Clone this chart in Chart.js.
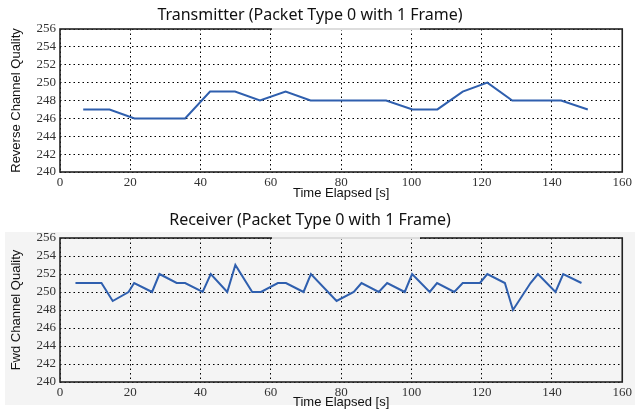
<!DOCTYPE html>
<html>
<head>
<meta charset="utf-8">
<script src="https://cdn.jsdelivr.net/npm/chart.js@4"></script>
<style>
  body { margin: 0; background: #fff; }
  #wrap { position: relative; width: 635px; height: 410px; overflow: hidden; }
  #grey { position: absolute; left: 5px; top: 232px; width: 630px; height: 173px; background: #f4f4f4; }
  canvas { position: absolute; left: 0; }
  #top { top: 0; }
  #bottom { top: 205px; }
</style>
</head>
<body>
<div id="wrap">
  <div id="grey"></div>
  <canvas id="top" width="635" height="205"></canvas>
  <canvas id="bottom" width="635" height="205"></canvas>
</div>
<script>
// transmitter data
var txTime = [6.6, 14.1, 21.2, 28.3, 35.6, 42.7, 49.8, 56.9, 64.2, 71.3, 78.4, 85.5, 92.8, 100.3, 107.4, 114.6, 121.6, 128.7, 135.7, 142.6, 150.2];
var txQuality = [247, 247, 246, 246, 246, 249, 249, 248, 249, 248, 248, 248, 248, 247, 247, 249, 250, 248, 248, 248, 247];

// receiver data
var rxTime = [4.4, 11.8, 15.0, 19.5, 21.1, 26.2, 28.3, 33.2, 35.6, 40.6, 42.9, 47.6, 49.9, 54.7, 57.2, 62.0, 64.3, 69.3, 71.4, 78.7,
              83.6, 85.8, 90.7, 93.1, 98.1, 100.2, 105.2, 107.3, 112.2, 114.6, 119.5, 121.6, 126.6, 128.9, 133.9, 136.0, 141.0, 143.2, 148.4];
var rxQuality = [251, 251, 249, 250, 251, 250, 252, 251, 251, 250, 252, 250, 253, 250, 250, 251, 251, 250, 252, 249,
                 250, 251, 250, 251, 250, 252, 250, 251, 250, 251, 251, 252, 251, 248, 251, 252, 250, 252, 251];

var xTicks = [0, 20, 40, 60, 80, 100, 120, 140, 160];
var yTicks = [240, 242, 244, 246, 248, 250, 252, 254, 256];

// title + full frame round the plot
var frame = {
  id: 'frame',
  afterDraw: function(chart, args, opts) {
    var ctx = chart.ctx, a = chart.chartArea;
    ctx.save();
    ctx.strokeStyle = '#222';
    ctx.lineWidth = 1.6;
    ctx.strokeRect(a.left, a.top, a.right - a.left, a.bottom - a.top);
    // faded bit of top border
    ctx.strokeStyle = '#ddd';
    ctx.lineWidth = 2;
    ctx.beginPath();
    ctx.moveTo(272, a.top);
    ctx.lineTo(420, a.top);
    ctx.stroke();
    ctx.fillStyle = '#111';
    ctx.font = '16px "Noto Sans"';
    ctx.textAlign = 'center';
    ctx.textBaseline = 'middle';
    ctx.fillText(opts.text, 310, opts.y);
    ctx.restore();
  }
};

function makeChart(id, xs, ys, title, yLabel, topPad, axisH, titleY, xTitlePad) {
  var pts = xs.map(function(x, i) { return { x: x, y: ys[i] }; });
  return new Chart(document.getElementById(id), {
    type: 'line',
    data: {
      datasets: [{
        data: pts,
        borderColor: '#2f5fae',
        borderWidth: 2,
        pointRadius: 0,
        tension: 0
      }]
    },
    options: {
      responsive: false,
      animation: false,
      layout: { padding: { left: 0, right: 10, top: topPad, bottom: 0 } },
      plugins: {
        legend: { display: false },
        tooltip: { enabled: false },
        frame: { text: title, y: titleY }
      },
      scales: {
        x: {
          type: 'linear',
          min: 0, max: 160,
          afterBuildTicks: function(s) { s.ticks = xTicks.map(function(v) { return { value: v }; }); },
          afterFit: function(s) { s.height = axisH; },
          grid: { color: '#000', lineWidth: 1, drawTicks: false },
          border: { display: false, dash: [1.5, 3] },
          ticks: { autoSkip: false, padding: 3, color: '#333', font: { family: '"Liberation Serif"', size: 13 }, maxRotation: 0 },
          title: { display: true, text: 'Time Elapsed [s]', color: '#111', font: { family: '"Liberation Sans"', size: 13 }, padding: { top: 0, bottom: xTitlePad } }
        },
        y: {
          min: 240, max: 256,
          afterBuildTicks: function(s) { s.ticks = yTicks.map(function(v) { return { value: v }; }); },
          afterFit: function(s) { s.width = 60; },
          grid: { color: '#000', lineWidth: 1, drawTicks: false },
          border: { display: false, dash: [1.5, 3] },
          ticks: { autoSkip: false, padding: 4, color: '#333', font: { family: '"Liberation Serif"', size: 13 } },
          title: { display: true, text: yLabel, color: '#111', font: { family: '"Liberation Sans"', size: 13 }, padding: { top: 9, bottom: 0 } }
        }
      }
    },
    plugins: [frame]
  });
}

makeChart('top', txTime, txQuality, 'Transmitter (Packet Type 0 with 1 Frame)', 'Reverse Channel Quality', 29, 33, 15, 4);
makeChart('bottom', rxTime, rxQuality, 'Receiver (Packet Type 0 with 1 Frame)', 'Fwd Channel Quality', 33, 28, 15, 0);
</script>
</body>
</html>
